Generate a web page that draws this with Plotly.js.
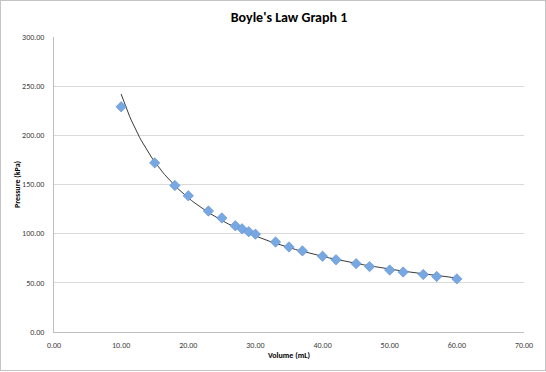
<!DOCTYPE html>
<html>
<head>
<meta charset="utf-8">
<script src="https://cdn.plot.ly/plotly-3.0.1.min.js"></script>
<style>
html,body{margin:0;padding:0;background:#fff;}
#wrap{position:relative;width:546px;height:372px;}
#chart{position:absolute;left:0;top:0;width:546px;height:372px;}
#frame{position:absolute;left:0;top:0;width:544px;height:369px;border:1px solid #c4c4c4;pointer-events:none;}
</style>
</head>
<body>
<div id="wrap"><div id="chart"></div><div id="frame"></div></div>
<script>
const volume = [10, 15, 18, 20, 23, 25, 27, 28, 29, 30, 33, 35, 37, 40, 42, 45, 47, 50, 52, 55, 57, 60];
const pressure = [229, 172, 149, 138.5, 123, 116, 108, 105, 102, 99.5, 91.5, 86.5, 82.5, 77, 73.5, 69.5, 66.5, 63, 61, 58.5, 56.5, 54];
const xTicks = [0, 10, 20, 30, 40, 50, 60, 70];
const yTicks = [0, 50, 100, 150, 200, 250, 300];

// power trendline (least squares in log-log space, as a spreadsheet does)
const lx = volume.map(Math.log), ly = pressure.map(Math.log);
const n = lx.length;
const mx = lx.reduce((a,b)=>a+b,0)/n, my = ly.reduce((a,b)=>a+b,0)/n;
let sxy=0, sxx=0;
for(let i=0;i<n;i++){sxy+=(lx[i]-mx)*(ly[i]-my);sxx+=(lx[i]-mx)**2;}
const b = sxy/sxx, a = Math.exp(my - b*mx);
const xmin = Math.min(...volume), xmax = Math.max(...volume);
const tx=[], ty=[];
for(let i=0;i<=200;i++){const x=xmin+(xmax-xmin)*i/200;tx.push(x);ty.push(a*Math.pow(x,b));}

const font = 'Carlito, "Liberation Sans", "Open Sans", sans-serif';
const data = [
  {x: tx, y: ty, type:'scatter', mode:'lines', line:{color:'#3a3a3a', width:1}, hoverinfo:'skip', showlegend:false},
  {x: volume, y: pressure, type:'scatter', mode:'markers',
   marker:{symbol:'diamond', size:8, color:'#77a8e2', line:{color:'#5f8fcf', width:0.6}}, showlegend:false}
];
const layout = {
  width:546, height:372,
  margin:{l:54, r:22, t:37, b:40},
  paper_bgcolor:'#fff', plot_bgcolor:'#fff',
  title:{text:"<b>Boyle's Law Graph 1</b>", x:0.5, xref:'paper', y:0.955, yref:'container', yanchor:'middle',
         font:{family:font, size:14, color:'#000'}},
  xaxis:{range:[0,70], tickvals:xTicks, ticktext:xTicks.map(v=>v.toFixed(2)),
         showgrid:false, zeroline:false, showline:true, linecolor:'#bfbfbf', linewidth:1,
         ticks:'', ticklabelstandoff:5,
         tickfont:{family:font, size:8, color:'#404040'},
         title:{text:'<b>Volume (mL)</b>', standoff:3, font:{family:font, size:8, color:'#000'}}},
  yaxis:{range:[0,300], tickvals:yTicks, ticktext:yTicks.map(v=>v.toFixed(2)),
         showgrid:true, gridcolor:'#d9d9d9', gridwidth:1, zeroline:false, showline:true, linecolor:'#bfbfbf', linewidth:1,
         ticks:'', ticklabelstandoff:7,
         tickfont:{family:font, size:8, color:'#404040'},
         title:{text:'<b>Pressure (kPa)</b>', standoff:0, font:{family:font, size:8, color:'#000'}}}
};
Plotly.newPlot('chart', data, layout, {displayModeBar:false, staticPlot:true});
</script>
</body>
</html>
